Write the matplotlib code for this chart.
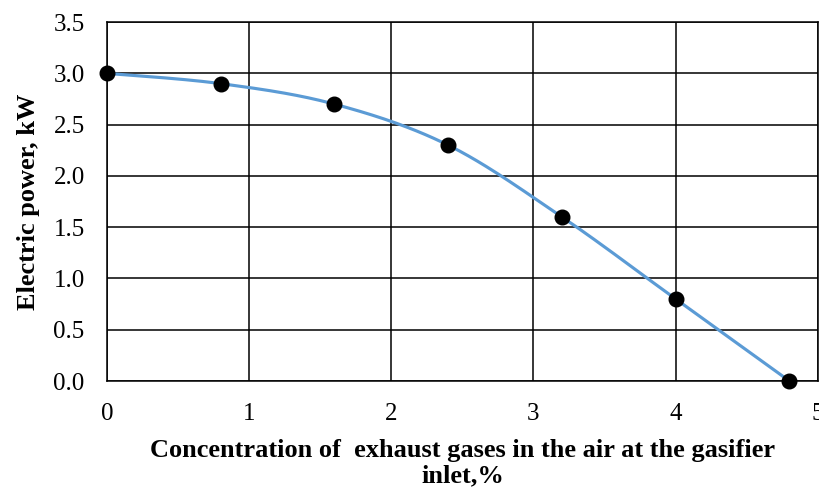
import numpy as np
import matplotlib.pyplot as plt

conc = [0, 0.8, 1.6, 2.4, 3.2, 4.0, 4.8]
power = [3.0, 2.9, 2.7, 2.3, 1.6, 0.8, 0.0]
xticks = [0, 1, 2, 3, 4, 5]
yticks = [0.0, 0.5, 1.0, 1.5, 2.0, 2.5, 3.0, 3.5]

plt.rcParams['font.family'] = ['Liberation Serif', 'DejaVu Serif']


def smooth(xs, ys, n=40):
    # bezier smoothing similar to spreadsheet "smoothed line"
    xs = np.asarray(xs, float)
    ys = np.asarray(ys, float)
    px = np.concatenate([[xs[0]], xs, [xs[-1]]])
    py = np.concatenate([[ys[0]], ys, [ys[-1]]])
    outx, outy = [], []
    t = np.linspace(0, 1, n)
    for i in range(1, len(px) - 2):
        p0 = np.array([px[i], py[i]])
        p3 = np.array([px[i + 1], py[i + 1]])
        c1 = p0 + (np.array([px[i + 1], py[i + 1]]) - np.array([px[i - 1], py[i - 1]])) / 6
        c2 = p3 - (np.array([px[i + 2], py[i + 2]]) - np.array([px[i], py[i]])) / 6
        b = ((1 - t) ** 3)[:, None] * p0 + (3 * (1 - t) ** 2 * t)[:, None] * c1 \
            + (3 * (1 - t) * t ** 2)[:, None] * c2 + (t ** 3)[:, None] * p3
        outx.extend(b[:, 0])
        outy.extend(b[:, 1])
    return outx, outy


fig = plt.figure(figsize=(8.19, 4.91), dpi=100)
ax = fig.add_axes([0.1306, 0.224, 0.868, 0.731])

sx, sy = smooth(conc, power)
ax.plot(sx, sy, color='#5B9BD5', lw=2.25, zorder=3, clip_on=False)
ax.plot(conc, power, 'o', color='black', ms=10.5, zorder=4, clip_on=False)

ax.set_xlim(0, 5)
ax.set_ylim(0, 3.5)
ax.set_xticks(xticks)
ax.set_yticks(yticks)
ax.set_yticklabels([f'{v:.1f}' for v in yticks])
ax.tick_params(length=0, labelsize=18)
ax.tick_params(axis='x', pad=16)
ax.tick_params(axis='y', pad=16)
ax.grid(True, color='black', lw=1.1)
ax.set_axisbelow(True)
for s in ax.spines.values():
    s.set_color('black')
    s.set_linewidth(1.1)

ax.set_xlabel('Concentration of  exhaust gases in the air at the gasifier\ninlet,%',
              fontsize=19, fontweight='bold', labelpad=10, linespacing=1.12)
ax.set_ylabel('Electric power, kW', fontsize=19, fontweight='bold', labelpad=10)

fig.savefig('out.png', dpi=100)
